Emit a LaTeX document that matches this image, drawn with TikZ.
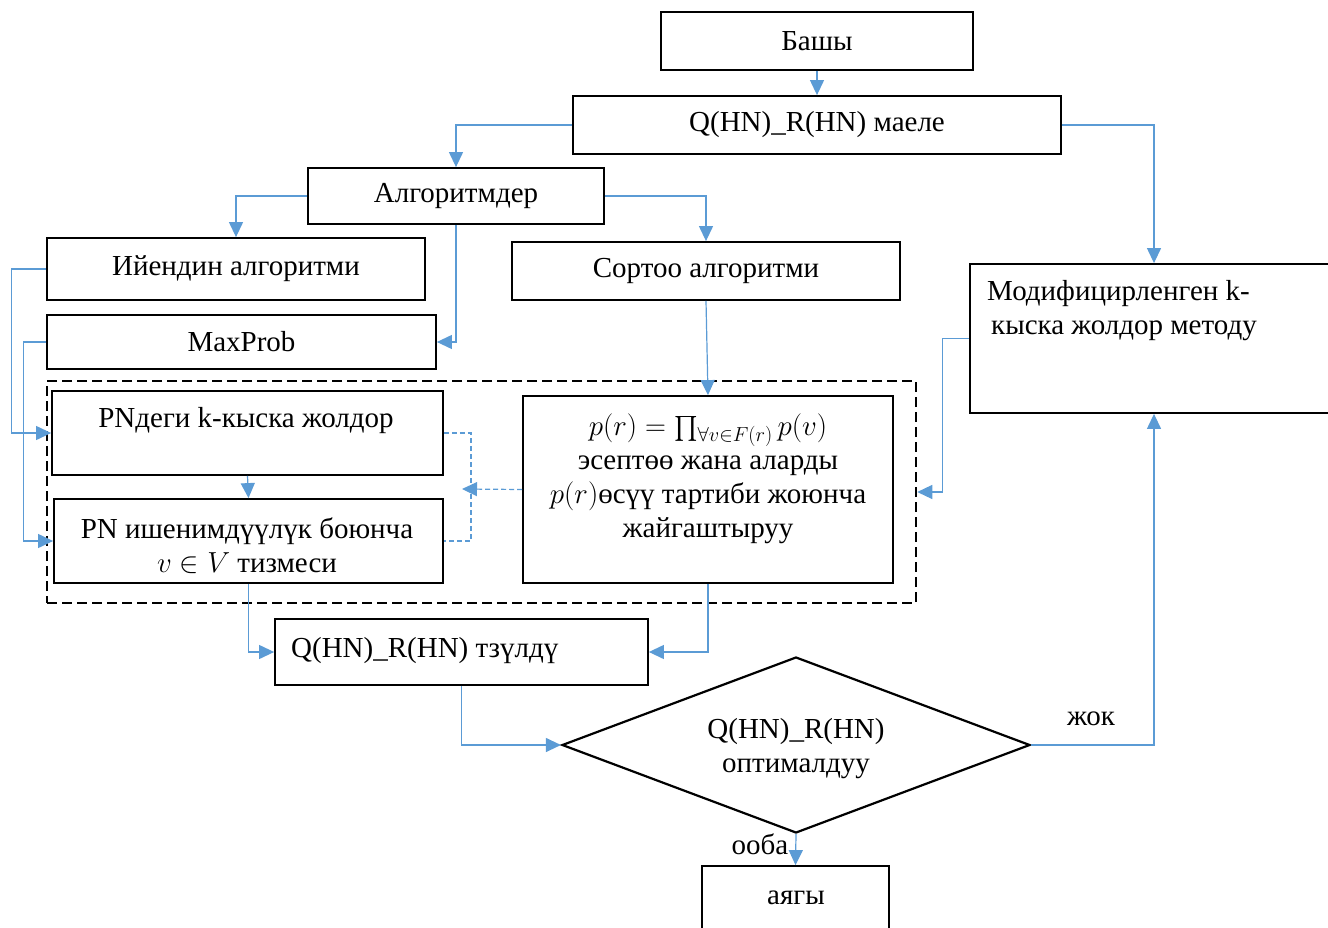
\RequirePackage{fix-cm}
\documentclass[tikz,border=0pt]{standalone}
\usepackage{amsmath}
\usepackage{fontspec}
\setmainfont{Liberation Serif}
\usetikzlibrary{arrows.meta,shapes.geometric,calc}
\definecolor{linkblue}{RGB}{91,155,213}

\begin{document}
\begin{tikzpicture}[x=1pt,y=-1pt,
  font=\fontsize{29}{34}\selectfont,
  box/.style={draw=black,line width=1.8pt,rectangle,inner sep=0pt},
  txt/.style={inner sep=0pt,align=center},
  arr/.style={draw=linkblue,line width=1.2pt,-{Triangle[length=15pt,width=14pt]}},
  dlink/.style={draw=linkblue,line width=1.2pt,dash pattern=on 5pt off 3pt},
  grpbox/.style={draw=black,line width=2.5pt,dash pattern=on 10pt off 5pt,rectangle,inner sep=0pt}]

\useasboundingbox (0,0) rectangle (1328,928);
\clip (0,0) rectangle (1328,928);

% boxes
\node[box,minimum width=312pt,minimum height=58pt] (start) at (817,41) {Башы};
\node[box,minimum width=488pt,minimum height=58pt] (prob) at (817,125) {Q(HN)\_R(HN) маеле};
\node[box,minimum width=296pt,minimum height=56pt] (algs) at (456,196) {Алгоритмдер};
\node[box,minimum width=378pt,minimum height=62pt] (iyen) at (236,269) {Ийендин алгоритми};
\node[box,minimum width=388pt,minimum height=58pt] (sort) at (706,271) {Сортоо алгоритми};
\node[box,minimum width=389pt,minimum height=54pt] (maxp) at (241.5,342) {MaxProb};
\node[box,minimum width=360pt,minimum height=149pt] (modk) at (1150,338.5) {};
\node[txt,anchor=north west,align=left] (modkt) at (987,280) {Модифицирленген k-\\\hspace{4pt}кыска жолдор методу};

\node[grpbox,minimum width=869pt,minimum height=222pt] (grp) at (481.5,492) {};
\node[box,minimum width=391pt,minimum height=84pt] (pnk) at (247.5,433) {};
\node[txt] (pnkt) at (246,421) {PNдеги k-кыска жолдор};
\node[box,minimum width=389pt,minimum height=84pt] (pnr) at (248.5,541) {};
\node[txt] (pnrt) at (247,546) {PN ишенимдүүлүк боюнча\\$v\in V$ тизмеси};
\node[box,minimum width=370pt,minimum height=187pt] (form) at (708,489.5) {};
\node[txt] (formt) at (708,479) {$p(r)=\prod_{\forall v\in F(r)}p(v)$\\эсептөө жана аларды\\$p(r)$өсүү тартиби жоюнча\\жайгаштыруу};

\node[box,minimum width=373pt,minimum height=66pt] (build) at (461.5,652) {};
\node[txt,anchor=west] (buildt) at (291,651) {Q(HN)\_R(HN) тзүлдү};

\node[diamond,draw=black,line width=2.2pt,minimum width=468pt,minimum height=176pt,inner sep=0pt] (dia) at (796,745) {};
\node[txt] (diat) at (796,749) {Q(HN)\_R(HN)\\оптималдуу};

\node[box,minimum width=187pt,minimum height=90pt] (fin) at (795.5,911) {};
\node[txt] (fint) at (796,898) {аягы};

% connectors
\draw[arr] (start.south) -- (prob.north);
\draw[arr] (prob.west) -| (algs.north);
\draw[arr] (prob.east) -| ([xshift=4pt]modk.north);
\draw[arr] (algs.west) -| (iyen.north);
\draw[arr] (algs.east) -| (sort.north);
\draw[arr] (algs.south) |- (maxp.east);
\draw[arr] (iyen.west) -- ++(-35,0) |- (pnk.west);
\draw[arr] (maxp.west) -- ++(-23,0) |- (pnr.west);
\draw[arr] (sort.south) -- (form.north);
\draw[arr] (pnk.south) -- (pnr.north);
\draw[dlink] (pnk.east) -- ++(27,0) |- (pnr.east);
\coordinate (mid) at (462,489);
\draw[dlink,-{Triangle[length=15pt,width=14pt]}] (form.west) -- (mid);
\draw[arr] (modk.west) -- ++(-27,0) |- (grp.east);
\draw[arr] (pnr.south) |- (build.west);
\draw[arr] (form.south) |- (build.east);
\draw[arr] (build.south) |- (dia.west);
\draw[arr] (dia.east) -| ([xshift=4pt]modk.south);
\draw[arr] (dia.south) -- (fin.north);

% branch labels
\node[txt] (no) at (1091,719) {жок};
\node[txt] (yes) at (760,844) {ооба};
\end{tikzpicture}
\end{document}
